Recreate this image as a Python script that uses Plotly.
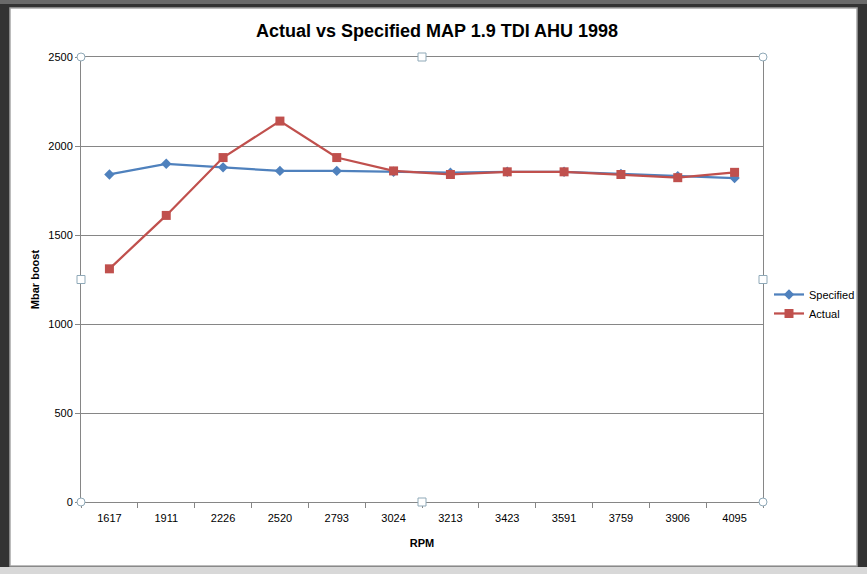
import plotly.graph_objects as go

rpm = ["1617", "1911", "2226", "2520", "2793", "3024", "3213", "3423", "3591", "3759", "3906", "4095"]
specified = [1840, 1900, 1880, 1860, 1860, 1855, 1850, 1855, 1855, 1843, 1830, 1820]
actual = [1310, 1610, 1935, 2140, 1935, 1860, 1840, 1855, 1855, 1840, 1822, 1852]
y_ticks = [0, 500, 1000, 1500, 2000, 2500]

W, H = 867, 574
L, R, T, B = 81, 104, 57, 72
PW, PH = W - L - R, H - T - B

fig = go.Figure()
fig.add_trace(go.Scatter(x=rpm, y=specified, name="Specified", mode="lines+markers",
                         line=dict(color="#4F81BD", width=2.25),
                         marker=dict(symbol="diamond", size=8, color="#4F81BD")))
fig.add_trace(go.Scatter(x=rpm, y=actual, name="Actual", mode="lines+markers",
                         line=dict(color="#C0504D", width=2.25),
                         marker=dict(symbol="square", size=9, color="#C0504D")))

shapes = [
    dict(type="rect", xref="paper", yref="paper", x0=-(L - 10) / PW, x1=1 + (R - 10) / PW,
         y0=-(B - 8) / PH, y1=1 + (T - 8) / PH,
         fillcolor="white", line=dict(color="#a6a6a6", width=1.5), layer="below"),
    dict(type="rect", xref="paper", yref="paper", x0=-L / PW, x1=1 + R / PW,
         y0=-B / PH, y1=-(B - 7) / PH,
         fillcolor="#d8d8d8", line=dict(width=0), layer="below"),
    dict(type="rect", xref="paper", yref="paper", x0=-L / PW, x1=1 + R / PW,
         y0=1 + (T - 4) / PH, y1=1 + T / PH,
         fillcolor="#6a6a6a", line=dict(width=0), layer="below"),
]
rx = 4 / PW
ry = 4 / PH
for (hx, hy, kind) in [(0, 0, "c"), (0, 1, "c"), (1, 0, "c"), (1, 1, "c"),
                       (0.5, 0, "s"), (0.5, 1, "s"), (0, 0.5, "s"), (1, 0.5, "s")]:
    shapes.append(dict(type="circle" if kind == "c" else "rect", xref="paper", yref="paper",
                       x0=hx - rx, x1=hx + rx, y0=hy - ry, y1=hy + ry,
                       fillcolor="white", line=dict(color="#8fa9b8", width=1), layer="above"))

fig.update_layout(
    width=W, height=H,
    margin=dict(l=L, r=R, t=T, b=B, autoexpand=False),
    paper_bgcolor="#333333",
    plot_bgcolor="white",
    font=dict(family="Liberation Sans", size=11, color="black"),
    title=dict(text="<b>Actual vs Specified MAP 1.9 TDI AHU 1998</b>", x=437 / W, xanchor="center",
               xref="container", y=1 - 31 / H, yanchor="middle",
               font=dict(family="Liberation Sans", size=18, color="black")),
    xaxis=dict(type="category", range=[-0.5, len(rpm) - 0.5], showgrid=False, showline=True,
               linecolor="#868686", linewidth=1,
               mirror=True, ticks="outside", tickson="boundaries", ticklen=5, tickcolor="#868686",
               tickfont=dict(size=11), ticklabelstandoff=6,
               title=dict(text="<b>RPM</b>", font=dict(size=11), standoff=16)),
    yaxis=dict(range=[0, 2500], tickvals=y_ticks, showgrid=True, gridcolor="#868686", gridwidth=1,
               showline=True, linecolor="#868686", linewidth=1, mirror=True, zeroline=False,
               ticks="outside", ticklen=5, tickcolor="#868686", tickfont=dict(size=11),
               title=dict(text="<b>Mbar boost</b>", font=dict(size=11), standoff=6)),
    legend=dict(x=1 + 6 / PW, xanchor="left", y=0.445, yanchor="middle",
                bgcolor="rgba(0,0,0,0)", font=dict(size=11), tracegroupgap=4, itemwidth=30),
    showlegend=True,
    shapes=shapes,
)

fig.write_html("out.html", config={"displayModeBar": False},
               post_script="document.body.style.margin='0';document.body.style.overflow='hidden';")
